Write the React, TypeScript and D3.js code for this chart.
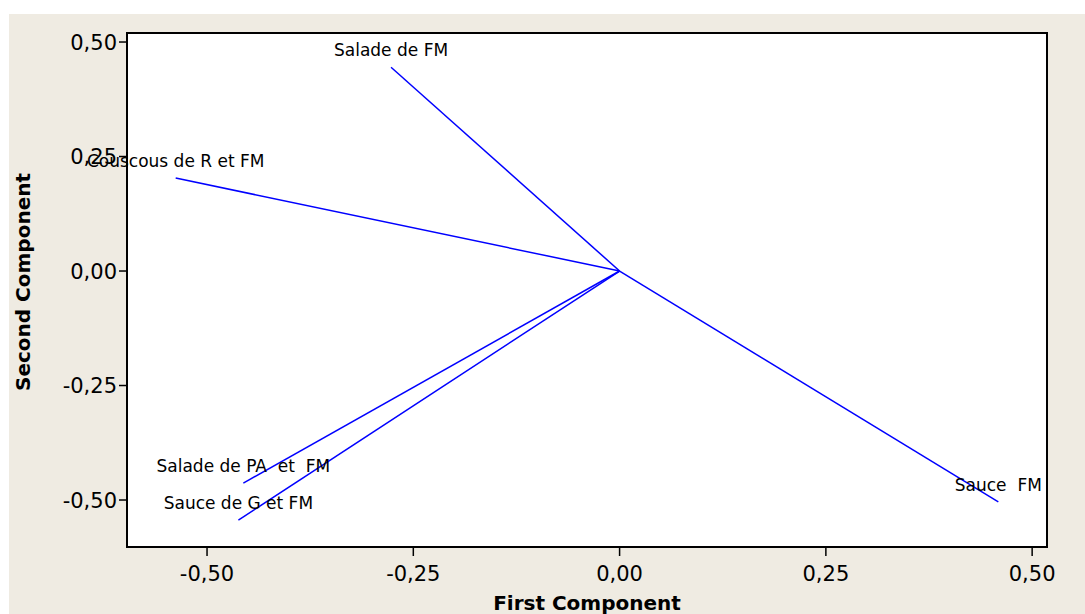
import React from "react";
import * as d3 from "d3";

const labels = ["Salade de FM", "Couscous de R et FM", "Salade de PA  et  FM", "Sauce de G et FM", "Sauce  FM"];
const firstComp = [-0.277, -0.538, -0.456, -0.462, 0.459];
const secondComp = [0.445, 0.203, -0.463, -0.544, -0.504];
const xTicks = [-0.5, -0.25, 0, 0.25, 0.5];
const yTicks = [-0.5, -0.25, 0, 0.25, 0.5];

const W = 1085;
const H = 614;
const plot = { left: 127, top: 33, right: 1047, bottom: 547 };

const fmt = (v: number) => d3.format(".2f")(v).replace(".", ",").replace("−", "-");

export default function App() {
  const x = d3.scaleLinear().domain([-0.597, 0.518]).range([plot.left, plot.right]);
  const y = d3.scaleLinear().domain([0.5197, -0.6026]).range([plot.top, plot.bottom]);
  const font = "'DejaVu Sans', Verdana, sans-serif";
  return (
    <svg width={W} height={H} style={{ position: "absolute", left: 0, top: 0 }} fontFamily={font}>
      <rect x={0} y={0} width={W} height={H} fill="#ffffff" />
      <rect x={9} y={14} width={W - 9} height={H - 14} fill="#efebe2" />
      <rect x={plot.left} y={plot.top} width={plot.right - plot.left} height={plot.bottom - plot.top} fill="#ffffff" />
      {labels.map((l, i) => (
        <line key={"l" + i} x1={x(0)} y1={y(0)} x2={x(firstComp[i])} y2={y(secondComp[i])} stroke="#0000ff" strokeWidth={1.5} />
      ))}
      {labels.map((l, i) => (
        <text key={"t" + i} x={x(firstComp[i])} y={y(secondComp[i]) - 11} textAnchor="middle" fontSize={17} fill="#000" style={{ whiteSpace: "pre" }}>
          {l}
        </text>
      ))}
      <rect x={plot.left} y={plot.top} width={plot.right - plot.left} height={plot.bottom - plot.top} fill="none" stroke="#000" strokeWidth={2} />
      {yTicks.map((t) => (
        <g key={"y" + t}>
          <line x1={plot.left - 8} x2={plot.left} y1={y(t)} y2={y(t)} stroke="#000" strokeWidth={1.5} />
          <text x={plot.left - 10} y={y(t)} dy="0.36em" textAnchor="end" fontSize={21} fill="#000">
            {fmt(t)}
          </text>
        </g>
      ))}
      {xTicks.map((t) => (
        <g key={"x" + t}>
          <line x1={x(t)} x2={x(t)} y1={plot.bottom} y2={plot.bottom + 9} stroke="#000" strokeWidth={1.5} />
          <text x={x(t)} y={581} textAnchor="middle" fontSize={21} fill="#000">
            {fmt(t)}
          </text>
        </g>
      ))}
      <text x={(plot.left + plot.right) / 2} y={610} textAnchor="middle" fontSize={20} fontWeight="bold" fill="#000">
        First Component
      </text>
      <text transform="translate(30, 282) rotate(-90)" textAnchor="middle" fontSize={20} fontWeight="bold" fill="#000">
        Second Component
      </text>
    </svg>
  );
}
